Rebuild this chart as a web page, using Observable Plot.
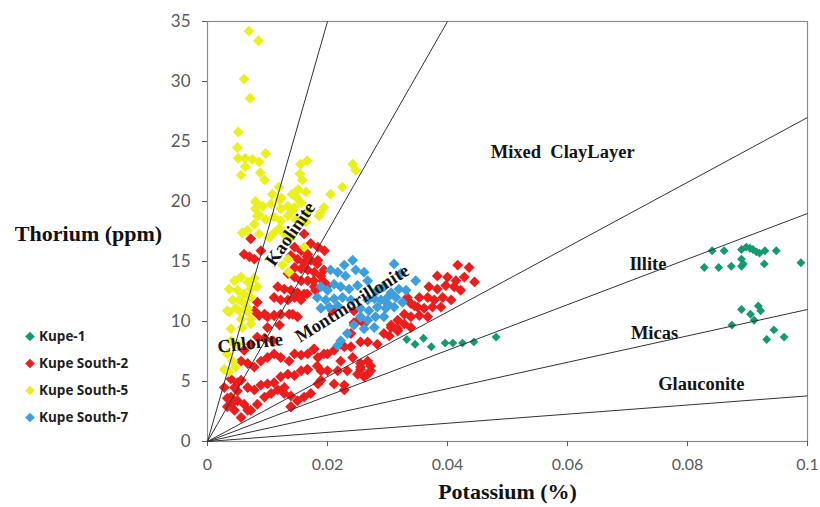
<!DOCTYPE html>
<html><head><meta charset="utf-8">
<script src="https://cdn.jsdelivr.net/npm/d3@7"></script>
<script src="https://cdn.jsdelivr.net/npm/@observablehq/plot@0.6"></script>
<style>body{margin:0;background:#fff} #chart{width:820px;height:507px}</style>
</head><body><div id="chart"></div>
<script>
// ---- data (Potassium %, Thorium ppm) ----
const seriesNames = ["Kupe-1", "Kupe South-2", "Kupe South-5", "Kupe South-7"];
const seriesColors = ["#17996f", "#ec1d1d", "#eaf01e", "#3e9fda"];

const kupe1K = [0.0841,0.0861,0.0890,0.0898,0.0904,0.0909,0.0915,0.0920,0.0929,0.0948,0.0890,0.0893,0.0828,0.0852,0.0873,0.0890,0.0928,0.0989,
  0.0890,0.0905,0.0918,0.0922,0.0911,0.0874,0.0944,0.0932,0.0961,
  0.0332,0.0346,0.0360,0.0373,0.0396,0.0409,0.0425,0.0444,0.0481];
const kupe1Th = [15.9,15.9,16.0,16.2,16.1,16.0,15.8,15.7,15.9,15.9,15.2,14.8,14.5,14.5,14.6,14.6,14.8,14.9,
  11.0,10.6,11.3,10.9,10.1,9.7,9.3,8.5,8.7,
  8.5,8.1,8.6,7.9,8.2,8.2,8.2,8.3,8.7];

const ks2K = [0.0072,0.0061,0.0070,0.0078,0.0089,0.0161,0.0172,0.0184,0.0195,0.0145,0.0156,0.0167,0.0139,0.0150,0.0161,0.0172,0.0184,0.0145,0.0156,0.0167,
  0.0178,0.0189,0.0134,0.0145,0.0156,0.0167,0.0117,0.0128,0.0139,0.0150,0.0161,0.0178,0.0111,0.0122,0.0134,0.0145,0.0156,0.0083,0.0100,0.0111,
  0.0122,0.0136,0.0150,0.0078,0.0086,0.0095,0.0111,0.0120,0.0142,0.0100,0.0083,0.0095,0.0109,0.0072,0.0061,0.0056,0.0067,0.0078,0.0089,0.0100,
  0.0111,0.0122,0.0136,0.0145,0.0156,0.0167,0.0178,0.0184,0.0167,0.0156,0.0145,0.0134,0.0122,0.0111,0.0100,0.0089,0.0078,0.0067,0.0056,0.0045,
  0.0039,0.0050,0.0061,0.0072,0.0083,0.0095,0.0106,0.0117,0.0128,0.0139,0.0150,0.0161,0.0172,0.0184,0.0045,0.0056,0.0067,0.0033,0.0139,0.0128,
  0.0189,0.0417,0.0436,0.0383,0.0400,0.0414,0.0428,0.0445,0.0369,0.0383,0.0397,0.0411,0.0422,0.0353,0.0367,0.0378,0.0392,0.0406,0.0339,0.0350,
  0.0361,0.0375,0.0389,0.0328,0.0339,0.0353,0.0367,0.0317,0.0328,0.0339,0.0306,0.0317,0.0303,0.0294,0.0166,0.0183,0.0194,0.0177,0.0166,0.0180,
  0.0244,0.0247,0.0239,0.0177,0.0194,0.0211,0.0228,0.0242,0.0255,0.0272,0.0166,0.0183,0.0200,0.0217,0.0233,0.0250,0.0267,0.0189,0.0211,0.0228,
  0.0222,0.0239,0.0255,0.0267,0.0272,0.0228,0.0139,0.0192,0.0200,0.0208,0.0244,0.0261,0.0267,0.0255,0.0283,0.0200,0.0222,0.0255,0.0261,0.0333,
  0.0345,0.0306,0.0317,0.0050,0.0042,0.0033,0.0028,0.0039,0.0050];
const ks2Th = [16.9,15.6,15.4,15.2,15.9,17.3,16.5,16.2,15.9,16.2,15.9,15.6,15.5,15.2,14.9,15.1,15.1,14.5,14.4,14.3,
  14.1,13.8,14.0,13.7,13.4,13.4,12.9,12.7,12.6,12.4,12.3,12.9,12.0,11.8,11.8,12.0,11.8,11.6,10.4,10.5,
  10.6,10.6,10.4,10.9,10.5,10.6,10.5,9.7,10.6,9.5,8.7,8.6,8.4,8.1,7.6,6.7,6.5,6.2,6.7,7.0,
  7.3,7.0,6.7,7.3,7.2,7.3,7.7,7.0,6.0,5.9,5.5,5.6,5.4,4.9,4.8,4.7,4.3,4.5,5.1,4.5,
  3.7,3.4,3.1,2.6,3.1,3.7,4.0,4.3,4.0,3.8,3.4,3.7,4.0,4.8,2.6,2.0,2.6,2.9,2.9,4.5,
  5.9,14.7,14.5,13.8,13.7,13.4,13.7,13.3,12.9,12.7,13.0,12.9,12.6,12.0,12.0,11.8,12.0,11.8,11.5,11.2,
  11.1,11.2,11.2,10.6,10.4,10.5,10.4,10.1,9.8,9.5,9.5,9.2,8.8,9.0,15.4,14.8,14.3,13.4,12.3,12.6,
  10.9,9.9,9.0,7.7,7.3,7.6,7.9,7.0,6.5,6.3,6.0,6.3,5.9,5.9,5.9,5.6,5.6,5.1,4.8,4.7,
  8.1,7.9,6.2,6.7,5.9,4.3,2.9,13.4,13.0,10.9,9.9,9.8,8.3,8.3,8.1,7.3,6.7,6.0,5.4,12.0,
  11.3,9.7,9.4,4.2,3.2,3.6,4.5,5.2,4.9];

const ks5K = [0.0069,0.0085,0.0061,0.0071,0.0051,0.0050,0.0051,0.0063,0.0075,0.0086,0.0097,0.0063,0.0088,0.0056,0.0095,0.0155,0.0166,0.0154,0.0158,0.0151,
  0.0164,0.0141,0.0149,0.0119,0.0108,0.0123,0.0080,0.0242,0.0247,0.0225,0.0205,0.0194,0.0122,0.0141,0.0080,0.0083,0.0186,
  0.0081,0.0092,0.0106,0.0120,0.0134,0.0145,0.0156,0.0167,0.0189,0.0086,0.0078,0.0097,0.0111,0.0122,0.0134,0.0147,0.0164,0.0058,0.0067,0.0086,
  0.0103,0.0111,0.0120,0.0128,0.0139,0.0161,0.0134,0.0125,0.0136,0.0045,0.0056,0.0067,0.0078,0.0036,0.0050,0.0061,0.0072,0.0083,0.0042,0.0053,
  0.0061,0.0072,0.0033,0.0047,0.0067,0.0056,0.0072,0.0039,0.0058,0.0036,0.0053,0.0067,0.0072,0.0039,0.0050,0.0033,0.0042,0.0028,0.0036,0.0047];
const ks5Th = [34.2,33.4,30.2,28.6,25.8,24.5,23.6,23.6,23.5,23.3,24.0,22.9,22.4,22.2,21.8,23.1,23.4,22.3,21.8,21.0,
  20.8,20.6,20.3,21.2,20.6,20.3,20.0,23.1,22.6,21.2,20.6,19.5,19.4,19.2,19.4,18.8,18.8,
  19.9,19.6,19.8,20.1,19.6,19.5,19.9,19.2,19.1,18.9,18.1,18.5,18.7,18.4,18.8,18.5,18.3,17.4,17.6,17.3,
  17.0,17.4,17.8,17.3,17.0,16.2,15.2,14.7,14.1,13.4,13.7,13.3,13.6,12.7,12.6,12.3,12.7,12.9,11.8,11.8,
  11.5,12.0,10.9,11.1,11.1,10.2,10.2,9.4,9.5,10.8,10.9,10.8,9.8,8.4,8.1,7.3,6.7,6.0,5.8,6.2];

const ks7K = [0.0242,0.0228,0.0217,0.0247,0.0261,0.0267,0.0311,0.0322,0.0347,0.0189,0.0200,0.0211,0.0222,0.0236,0.0250,0.0183,0.0197,0.0211,0.0225,0.0239,
  0.0189,0.0203,0.0217,0.0283,0.0294,0.0306,0.0319,0.0331,0.0267,0.0278,0.0289,0.0300,0.0314,0.0255,0.0269,0.0283,0.0297,0.0311,0.0255,0.0267,
  0.0280,0.0294,0.0244,0.0261,0.0278,0.0233,0.0222,0.0217,0.0205,0.0230,0.0300,0.0325];
const ks7Th = [15.1,14.7,14.1,14.3,14.1,13.4,14.8,14.0,13.4,12.9,12.6,13.1,12.9,12.7,13.0,12.0,11.8,11.9,12.0,11.8,
  11.1,11.2,11.3,12.6,12.9,12.4,12.7,12.6,11.8,11.9,11.8,12.0,12.0,11.1,10.9,11.2,11.1,11.2,10.4,10.1,
  10.4,10.4,9.7,9.4,9.5,9.0,8.4,8.0,14.3,13.8,11.5,11.6];

// reference lines from origin: end points
const rayK  = [0.020, 0.040, 0.1, 0.1, 0.1, 0.1];
const rayTh = [35, 35, 27, 19, 11, 3.8];

// region labels
const regionNames = ["Mixed\u00a0 ClayLayer", "Illite", "Micas", "Glauconite", "Kaolinite", "Montmorillonite", "Chlorite"];
const regionK     = [0.0592, 0.0734, 0.0745, 0.0823, 0.0138, 0.0241, 0.0071];
const regionTh    = [24.1, 14.8, 9.0, 4.8, 17.3, 11.5, 8.2];
const regionAngle = [0, 0, 0, 0, -55, -32, -7];

const xTicks = [0, 0.02, 0.04, 0.06, 0.08, 0.1];
const yTicks = [0, 5, 10, 15, 20, 25, 30, 35];

// ---- build tables ----
const allK = [kupe1K, ks2K, ks5K, ks7K];
const allTh = [kupe1Th, ks2Th, ks5Th, ks7Th];
const points = seriesNames.flatMap((s, j) => allK[j].map((k, i) => ({series: s, k, th: allTh[j][i]})));
const rays = rayK.map((k, i) => ({k1: 0, t1: 0, k2: k, t2: rayTh[i]}));
const regions = regionNames.map((n, i) => ({name: n, k: regionK[i], th: regionTh[i], a: regionAngle[i]}));

const serif = "'Liberation Serif', 'Times New Roman', serif";
const chart = Plot.plot({
  width: 820, height: 507,
  marginLeft: 207, marginRight: 13, marginTop: 21, marginBottom: 66,
  style: {fontFamily: "Lato, sans-serif", background: "#fff"},
  x: {domain: [0, 0.1]},
  y: {domain: [0, 35]},
  color: {domain: seriesNames, range: seriesColors},
  marks: [
    Plot.frame({stroke: "#8c8c8c", strokeWidth: 1.2}),
    Plot.axisX({ticks: xTicks, tickSize: 5, tickPadding: 12, fontSize: 16, color: "#5a5a5a", label: null, tickFormat: d => String(d)}),
    Plot.axisY({ticks: yTicks, tickSize: 5, tickPadding: 12, fontSize: 17, color: "#5a5a5a", label: null}),
    ...seriesNames.map(s => Plot.dot(points.filter(d => d.series === s), {
      x: "k", y: "th", fill: "series", symbol: "diamond2", r: s === "Kupe-1" ? 4.0 : 4.9
    })),
    Plot.link(rays, {x1: "k1", y1: "t1", x2: "k2", y2: "t2", stroke: "#333", strokeWidth: 1}),
    Plot.text(regions, {x: "k", y: "th", text: "name", rotate: "a", fontSize: 18.5, fontWeight: "bold", fontFamily: serif, fill: "#141414"}),
    Plot.text(["Thorium (ppm)"], {frameAnchor: "left", dx: -119, dy: 2, fontSize: 22, fontWeight: "bold", fontFamily: serif, fill: "#111", textAnchor: "middle"}),
    Plot.text(["Potassium (%)"], {frameAnchor: "bottom", dy: 57, fontSize: 22, fontWeight: "bold", fontFamily: serif, fill: "#111"})
  ]
});
document.getElementById("chart").appendChild(chart);

// legend inside the left margin
const svg = d3.select(chart);
const lg = svg.append("g").attr("font-family", "'Open Sans', sans-serif").attr("font-size", 13.5).attr("font-weight", "bold").attr("text-anchor", "start");
seriesNames.forEach((s, i) => {
  const y = 336.5 + i * 27;
  lg.append("path").attr("d", d3.symbol(d3.symbolDiamond2, 60)()).attr("transform", `translate(30,${y})`).attr("fill", seriesColors[i]);
  lg.append("text").attr("x", 39).attr("y", y).attr("dy", "0.35em").attr("fill", "#1e1e1e").text(s);
});
</script></body></html>
